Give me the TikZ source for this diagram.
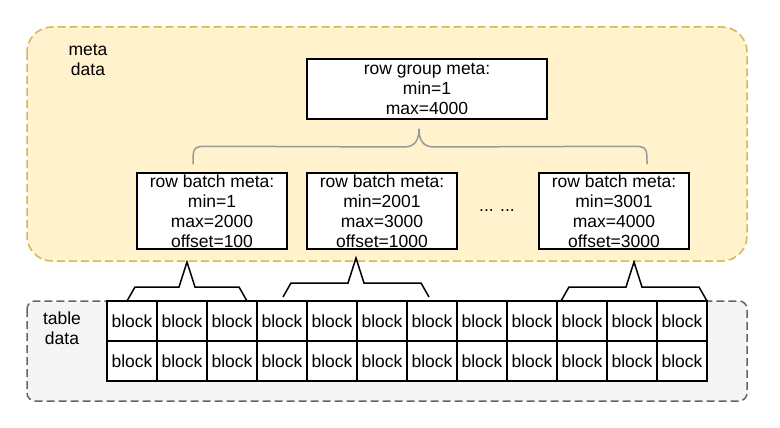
\documentclass[tikz,border=0pt]{standalone}
\usepackage{fontspec}
\setmainfont{Liberation Sans}
\usetikzlibrary{positioning, calc}
\definecolor{metafill}{HTML}{FFF2CC}
\definecolor{metaline}{HTML}{D6B656}
\definecolor{tablefill}{HTML}{F5F5F5}
\definecolor{tableline}{HTML}{666666}
\definecolor{bracegray}{HTML}{999999}

\begin{document}
\begin{tikzpicture}[
        % ----- global styles -----
        x=1pt, y=-1pt,
        every node/.style={font=\fontsize{17.5}{20}\selectfont},
        % dashed areas
        metaarea/.style={draw=metaline, fill=metafill, line width=1.5pt, dash pattern=on 8pt off 4pt, rounded corners=25pt},
        tablearea/.style={draw=tableline, fill=tablefill, line width=1.5pt, dash pattern=on 8pt off 4pt, rounded corners=8pt},
        % meta boxes and data blocks
        metabox/.style={draw, line width=1.5pt, fill=white, align=center, inner sep=0pt},
        block/.style={draw, line width=1.5pt, fill=white, minimum width=50pt, minimum height=40pt, inner sep=0pt},
        brace/.style={draw=bracegray, line width=1.5pt},
        bracket/.style={draw, line width=1.5pt, line join=miter}
    ]
    \useasboundingbox (0,0) rectangle (780,428);

    % ----- areas -----
    \draw[metaarea] (27,27) rectangle (747,261);
    \draw[tablearea] (27,301) rectangle (747,401);
    \node[align=center] (metalabel) at (88,60) {meta\\data};
    \node[align=center] (tablelabel) at (62,328) {table\\data};

    % ----- meta boxes -----
    \node[metabox, minimum width=240pt, minimum height=60pt] (group) at (427,89) {row group meta:\\min=1\\max=4000};
    \node[metabox, minimum width=150pt, minimum height=76pt] (batch1) at (212,211) {row batch meta:\\min=1\\max=2000\\offset=100};
    \node[metabox, minimum width=150pt, minimum height=76pt] (batch2) at (382,211) {row batch meta:\\min=2001\\max=3000\\offset=1000};
    \node[metabox, minimum width=150pt, minimum height=76pt] (batch3) at (614,211) {row batch meta:\\min=3001\\max=4000\\offset=3000};
    \node (dots) at (497,211) {... ...};

    % ----- brace between group and batches -----
    \coordinate (bracetip) at ($(group.south)+(-8,9)$);
    \draw[brace] ($(batch1.north)+(-19,-8)$) .. controls ($(batch1.north)+(-19,-26)$) .. ($(batch1.north)+(0,-26)$)
        -- (404,147) .. controls (415,147) and (bracetip |- 0,140) .. (bracetip)
        .. controls (bracetip |- 0,140) and (423,147) .. (434,147)
        -- ($(batch3.north)+(14,-26)$) .. controls ($(batch3.north)+(33,-26)$) .. ($(batch3.north)+(33,-8)$);

    % ----- brackets from batches to blocks -----
    \foreach \lx/\rx/\tx/\ty/\fy/\sy in {127/247/187/262/301/287, 283/429/356/258/297/283, 561/707/634/262/301/287} {
        \draw[bracket] (\lx,\fy) -- (\lx+8,\sy) -- (\tx-8,\sy) -- (\tx,\ty) -- (\tx+8,\sy) -- (\rx-8,\sy) -- (\rx,\fy);
    }

    % ----- data blocks -----
    \foreach \r in {1,2} {
        \foreach \c in {1,...,12} {
            \node[block] (b-\r-\c) at ({132+50*(\c-1)}, {321+40*(\r-1)}) {block};
        }
    }
\end{tikzpicture}
\end{document}
